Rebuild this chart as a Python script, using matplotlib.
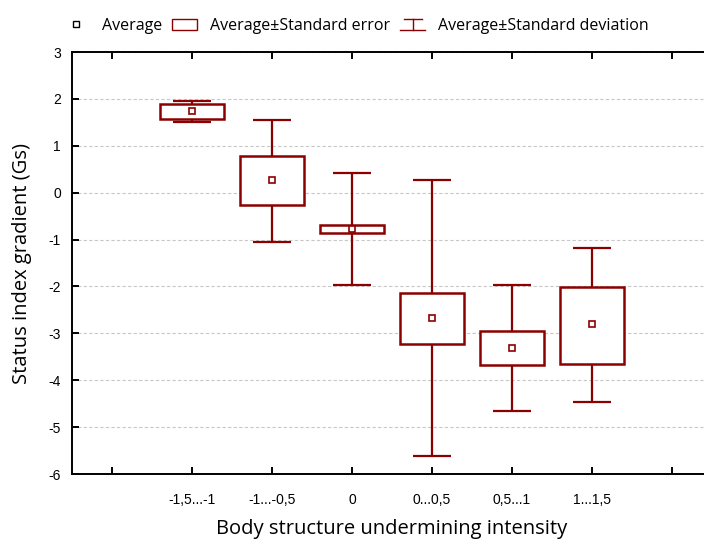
import numpy as np
import matplotlib.pyplot as plt
from matplotlib.lines import Line2D
from matplotlib.patches import Patch, Rectangle
from matplotlib.legend_handler import HandlerBase

categories = ['-1,5...-1', '-1...-0,5', '0', '0...0,5', '0,5...1', '1...1,5']
mean = [1.74, 0.26, -0.77, -2.67, -3.31, -2.80]
se_low = [1.57, -0.27, -0.85, -3.22, -3.67, -3.65]
se_high = [1.885, 0.79, -0.695, -2.13, -2.955, -2.01]
sd_low = [1.51, -1.045, -1.96, -5.61, -4.655, -4.47]
sd_high = [1.955, 1.56, 0.42, 0.27, -1.97, -1.19]

color = '#8b0000'
label_font = ['Open Sans', 'DejaVu Sans']
plt.rcParams['axes.unicode_minus'] = False


class CapHandler(HandlerBase):
    """Legend key drawn as a whisker with caps on both ends."""

    def create_artists(self, legend, orig_handle, xdescent, ydescent,
                       width, height, fontsize, trans):
        cx = width / 2 - xdescent
        y0 = -ydescent
        y1 = height - ydescent
        kw = dict(color=orig_handle.get_color(), linewidth=1.0,
                  transform=trans)
        return [
            Line2D([cx, cx], [y0, y1], **kw),
            Line2D([cx - 0.35 * width, cx + 0.35 * width], [y1, y1], **kw),
            Line2D([cx - 0.5 * width, cx + 0.5 * width], [y0, y0], **kw),
        ]


fig = plt.figure(figsize=(7.04, 5.44), dpi=100)
ax = fig.add_axes([72 / 704, 1 - 474 / 544, 640 / 704, 422 / 544])

x = np.arange(1, len(categories) + 1)
mean = np.array(mean)
yerr = [mean - np.array(sd_low), np.array(sd_high) - mean]

# whiskers: mean +/- standard deviation
ax.errorbar(x, mean, yerr=yerr, fmt='none', ecolor=color, elinewidth=1.6,
            capsize=14, capthick=1.6, zorder=2)

# boxes: mean +/- standard error
box_w = 0.8
for xi, lo, hi in zip(x, se_low, se_high):
    ax.add_patch(Rectangle((xi - box_w / 2, lo), box_w, hi - lo,
                           facecolor='white', edgecolor=color, linewidth=1.8,
                           zorder=3))

ax.plot(x, mean, linestyle='none', marker='s', markersize=5,
        markerfacecolor='white', markeredgecolor=color, markeredgewidth=1.2,
        zorder=4)

ax.set_xlim(-0.5, 7.5)
ax.set_ylim(-6, 3)
ax.set_xticks(np.arange(0, 8))
ax.set_xticklabels([''] + categories + [''])
ax.set_yticks(np.arange(-6, 4))
ax.yaxis.grid(True, linestyle=(0, (3, 2)), color='#c8c8c8', linewidth=0.8)
ax.set_axisbelow(True)

for side in ['left', 'bottom', 'top', 'right']:
    ax.spines[side].set_linewidth(1.4)
ax.tick_params(axis='both', direction='in', length=5, width=1.4,
               labelsize=10, labelfontfamily='Liberation Sans',
               top=True, right=True)
ax.tick_params(axis='x', pad=14)
ax.tick_params(axis='y', pad=8)

ax.set_xlabel('Body structure undermining intensity', fontsize=14.5,
              family=label_font, labelpad=8)
ax.set_ylabel('Status index gradient (Gs)', fontsize=14.5, family=label_font,
              labelpad=12)

sd_key = Line2D([], [], color=color)
handles = [
    Line2D([], [], linestyle='none', marker='s', markersize=4,
           markerfacecolor='white', markeredgecolor='black',
           markeredgewidth=1.0),
    Patch(facecolor='white', edgecolor=color, linewidth=1.0),
    sd_key,
]
labels = ['Average', 'Average\u00b1Standard error',
          'Average\u00b1Standard deviation']
fig.legend(handles, labels, loc='center left', bbox_to_anchor=(0.07, 0.952),
           ncol=3, frameon=False, handlelength=1.6, handleheight=0.75,
           handletextpad=0.8, columnspacing=0.6,
           handler_map={sd_key: CapHandler()},
           prop={'family': label_font, 'size': 11.5})

fig.savefig('out.png', dpi=100)
